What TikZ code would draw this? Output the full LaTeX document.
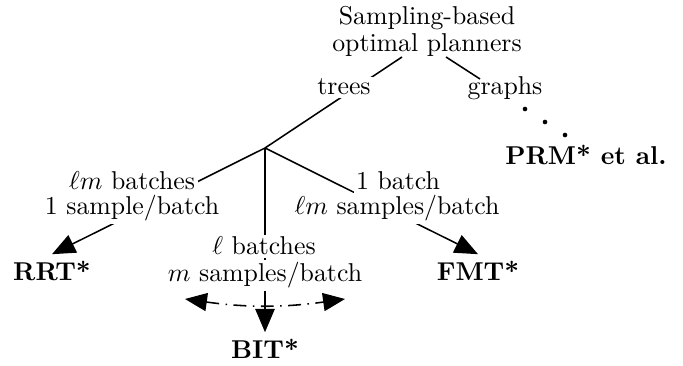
\documentclass[tikz,border=0pt]{standalone}
\usetikzlibrary{arrows.meta}
\begin{document}
\begin{tikzpicture}[x=0.3876pt,y=-0.3876pt,
  txt/.style={inner sep=1pt, anchor=base},
  lab/.style={txt, fill=white},
  alg/.style={font=\bfseries, inner sep=2.5pt, outer sep=0pt, anchor=base},
  edge/.style={line width=0.6pt},
  arr/.style={edge, -{Triangle[length=9pt,width=7.5pt]}},
  dbarr/.style={edge, {Triangle[length=8.5pt,width=7pt]}-{Triangle[length=8.5pt,width=7pt]},
     dash pattern=on 5pt off 2.5pt on 0.6pt off 2.5pt},
  dotnode/.style={circle, fill=black, inner sep=0pt, minimum size=1.8pt}]
\useasboundingbox (0,0) rectangle (683,366);

% root
\node[txt] (r1) at (427,25) {Sampling-based};
\node[txt] (r2) at (427,52) {optimal planners};

% coordinates
\coordinate (rt) at (402,57);
\coordinate (rg) at (446,57);
\coordinate (ge) at (480,79);
\coordinate (j) at (265,148);
\coordinate (al) at (185,299);
\coordinate (ar) at (345,299);

% targets
\node[alg] (rrt) at (52,280) {RRT*};
\node[alg] (fmt) at (478,280) {FMT*};
\node[alg] (bit) at (265,358) {BIT*};
\node[alg] (prm) at (586,165) {PRM* et al.};

% lines
\draw[edge] (rt) -- (j);
\draw[edge] (rg) -- (ge);
\draw[arr] (j) -- (rrt.north);
\draw[arr] (j) -- (fmt.north);
\draw[arr] (j) -- (bit.north);
\draw[dbarr] (al) to[bend right=8] (ar);

% dots
\node[dotnode] (d1) at (525,109) {};
\node[dotnode] (d2) at (545,122) {};
\node[dotnode] (d3) at (565,135) {};

% labels
\node[lab] (trees) at (344,95) {trees};
\node[txt] (graphs) at (505,95) {graphs};
\node[lab] (la1) at (132,190) {$\ell m$ batches};
\node[lab] (la2) at (132,215) {1 sample/batch};
\node[lab] (rb1) at (398,190) {1 batch};
\node[lab] (rb2) at (397,215) {$\ell m$ samples/batch};
\node[lab] (mb1) at (264,255) {$\ell$ batches};
\node[lab] (mb2) at (265,282) {$m$ samples/batch};
\end{tikzpicture}
\end{document}
